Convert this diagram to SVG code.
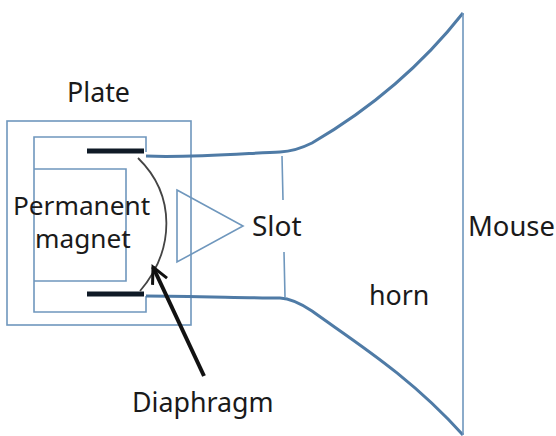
<svg xmlns="http://www.w3.org/2000/svg" width="556" height="436" viewBox="0 0 556 436">
<style>
text{font-family:"Noto Sans","Open Sans","Liberation Sans",sans-serif;font-size:26.8px;fill:#1a1a1a}
.b{fill:none;stroke:#6f97bd;stroke-width:1.6}
.h{fill:none;stroke:#4f7ba6;stroke-width:3}
.t{fill:none;stroke:#0f1a26;stroke-width:5}
</style>
<defs><marker id="a" markerUnits="userSpaceOnUse" markerWidth="24" markerHeight="24" refX="20" refY="12" orient="auto"><path d="M4 4L20 12L4 20" fill="none" stroke="#111" stroke-width="3"/></marker></defs>
<g id="plate"><rect class="b" x="7" y="121" width="184" height="204"/></g>
<g id="inner"><path class="b" d="M146 152V137H34V312H146V296M34 169H126V281H34"/></g>
<g id="cone"><path class="b" d="M177 190L243 226L177 262Z"/></g>
<g id="horn"><path class="h" d="M146 156C190 158 250 153 280 152C292 151.5 302 148 312 143C360 115 415 74 463 13M146 296C190 296 250 298 280 298C292 298.5 303 305 312 311C355 342 410 376 463 435"/><path class="b" d="M463 13V435M282 156L283 200M284 252L285 297"/></g>
<g id="poles"><path class="t" d="M87 151H144M87 294H144"/></g>
<g id="connectors"><path d="M138 158C176 195 175 250 140 291" fill="none" stroke="#444" stroke-width="1.8"/><path d="M204 376L153 267" fill="none" stroke="#111" stroke-width="4" marker-end="url(#a)"/></g>
<g id="labels"><text x="67" y="102">Plate</text><text x="13" y="215" style="font-size:26.2px">Permanent</text><text x="35" y="248" style="font-size:26.2px">magnet</text><text x="252" y="236" style="font-size:28px">Slot</text><text x="468" y="236" style="font-size:27.4px">Mouse</text><text x="369" y="305">horn</text><text x="132" y="412">Diaphragm</text></g>
</svg>
